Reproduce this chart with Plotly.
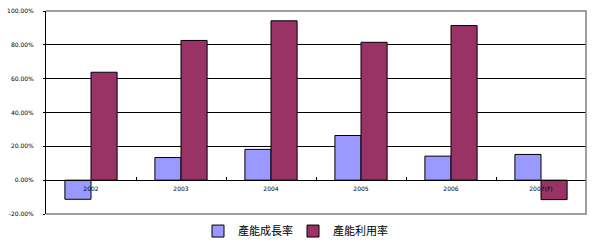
import plotly.graph_objects as go

categories = ["2002", "2003", "2004", "2005", "2006", "2007(F)"]
growth = [-11.3, 13.4, 18.2, 26.4, 14.2, 15.2]
utilization = [63.8, 82.6, 94.2, 81.5, 91.4, -11.5]
series_names = ["產能成長率", "產能利用率"]
y_ticks = [-20, 0, 20, 40, 60, 80, 100]
y_tick_text = ["-20.00%", "0.00%", "20.00%", "40.00%", "60.00%", "80.00%", "100.00%"]

fig = go.Figure()
fig.add_trace(go.Bar(x=categories, y=growth, name=series_names[0],
                     marker=dict(color="#9999FF", line=dict(color="black", width=1))))
fig.add_trace(go.Bar(x=categories, y=utilization, name=series_names[1],
                     marker=dict(color="#993366", line=dict(color="black", width=1))))

ymin, ymax = -20, 100
fig.update_layout(
    width=593, height=243,
    margin=dict(l=46, r=7, t=11, b=29, autoexpand=False),
    paper_bgcolor="white", plot_bgcolor="white",
    barmode="group", bargap=0.42, bargroupgap=0,
    showlegend=True,
    legend=dict(orientation="h", x=(198 - 46) / 540, xanchor="left", y=-0.084, yanchor="middle",
                font=dict(family="Noto Sans CJK TC", size=11, color="black"),
                tracegroupgap=0, entrywidth=50, entrywidthmode="pixels",
                bgcolor="rgba(0,0,0,0)"),
    xaxis=dict(type="category", anchor="free", position=(0 - ymin) / (ymax - ymin),
               showline=True, linecolor="black", linewidth=1,
               ticks="inside", ticklen=3, tickcolor="black", tickson="boundaries",
               ticklabelstandoff=3,
               tickfont=dict(family="DejaVu Sans", size=6, color="black"),
               showgrid=False),
    yaxis=dict(range=[ymin, ymax], tickvals=y_ticks, ticktext=y_tick_text,
               showgrid=True, gridcolor="black", gridwidth=1,
               zeroline=True, zerolinecolor="black", zerolinewidth=1,
               showline=True, linecolor="black", linewidth=1,
               ticks="outside", ticklen=2, tickcolor="black",
               ticklabelstandoff=8,
               tickfont=dict(family="DejaVu Sans", size=6, color="black")),
    shapes=[dict(type="path", xref="paper", yref="paper",
                 path="M 0,1 L 1,1 L 1,0 L 0,0",
                 line=dict(color="#808080", width=1.5), layer="above")],
)

fig.write_html("out.html")
